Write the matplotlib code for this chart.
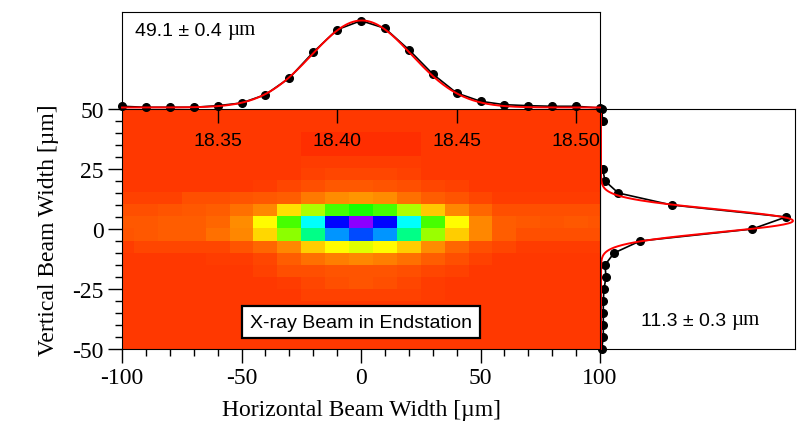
import numpy as np
import matplotlib
matplotlib.use('Agg')
import matplotlib.pyplot as plt
from matplotlib.colors import ListedColormap, hsv_to_rgb

plt.rcParams['axes.unicode_minus'] = False

# posisi profil (um)
x_pos = np.arange(-100, 101, 10)
y_pos = np.arange(50, -51, -5)

# profil horizontal (atas) dan vertikal (kanan), satuan sembarang
h_prof = [2.7, 1.7, 1.7, 1.7, 3.3, 6.0, 14.3, 31.0, 56.7, 79.3, 88.3,
          80.7, 59.3, 35.0, 16.0, 7.7, 4.3, 3.3, 2.7, 2.7, 1.0]
v_prof = [1.7, 2.7, -8, -8, -8, 2.7, 5.0, 18.3, 71.7, 186, 152.3,
          40, 14, 5, 6, 4, 3.3, 3.3, 3.3, 3.3, 1.7]

# parameter fit gaussian
h_fwhm, h_amp, h_cen, h_base = 49.1, 87.0, 0.3, 1.5
v_fwhm, v_amp, v_cen, v_base = 11.3, 192.0, 3.4, 1.0

# peta intensitas (baris dari atas y=50 ke bawah y=-50, kolom x=-100..100)
beam_map = [
    [5]*21,
    [5]*21,
    [5]*8 + [4.0]*5 + [5]*8,
    [5]*8 + [4.0]*5 + [5]*8,
    [5]*8 + [5.4]*5 + [5]*8,
    [5]*8 + [5.7, 6.2, 6.2, 6.2, 5.7] + [5]*8,
    [5]*6 + [5.4, 6.2, 6.7, 7.5, 7.5, 7.1, 6.7, 6.2, 5.7] + [5]*6,
    [5.7, 5.7, 5.7, 6.7, 6.7, 7.1, 7.5, 8.0, 10.2, 12.1, 12.8,
     12.1, 9.4, 8.0, 7.1, 6.0, 5.4, 5.4, 5.4, 5.4, 5.4],
    [6.7, 6.7, 7.1, 7.5, 8.0, 9.4, 11.4, 18.8, 28.5, 37, 41,
     37, 28.5, 17.1, 11.4, 8.9, 6.7, 6.7, 6.7, 6.7, 6.7],
    [7.5, 7.5, 8.0, 8.0, 8.9, 12.1, 21.4, 37, 64, 85, 97,
     85, 64, 37, 21.4, 11.4, 8.0, 7.5, 7.1, 7.5, 7.1],
    [7.1, 7.5, 8.0, 8.0, 9.4, 11.4, 18.0, 31, 54, 73, 79,
     73, 54, 30, 17.4, 11.4, 8.0, 6.7, 6.7, 6.7, 6.7],
    [5.4, 6.0, 6.0, 6.0, 6.2, 7.1, 8.9, 11.4, 17.4, 21.4, 24.2,
     21.4, 17.4, 12.1, 8.9, 6.7, 6.0, 5.4, 5.4, 5.4, 5.4],
    [5, 5, 5, 5, 5.4, 5.4, 6.2, 8.0, 9.4, 10.7, 11.4,
     10.7, 9.4, 8.0, 6.7, 5.7, 5, 5, 5, 5, 5],
    [5]*6 + [5.7, 6.7, 6.7, 7.1, 7.1, 7.1, 6.7, 6.2, 5.7] + [5]*6,
    [5]*7 + [5.4, 6.0, 6.9, 7.1, 6.9, 6.0, 5.4] + [5]*7,
    [5]*8 + [5.7]*5 + [5.4] + [5]*7,
    [5]*21,
    [5]*21,
    [5]*21,
    [5]*21,
]

h_label = '49.1 ± 0.4'
v_label = '11.3 ± 0.3'

serif = 'Liberation Serif'
sans = 'Liberation Sans'

# colormap merah -> ungu (rainbow terbalik)
hue = np.linspace(0, 0.78, 256)
cmap = ListedColormap(hsv_to_rgb(np.column_stack([hue, np.ones(256), np.ones(256)])))

fig = plt.figure(figsize=(8, 4.27), dpi=100)
ax_r = fig.add_axes([0.75, 0.1803, 0.24375, 0.5621])
ax = fig.add_axes([0.1525, 0.1803, 0.5975, 0.5621])
ax_t = fig.add_axes([0.1525, 0.7424, 0.5975, 0.2279])
ax_r.set_zorder(-1)

# peta
ax.imshow(np.array(beam_map), cmap=cmap, vmin=0, vmax=100, aspect='auto',
          interpolation='nearest', extent=(-105, 105, -50, 50))
ax.set_xlim(-100, 100)
ax.set_ylim(-50, 50)
ax.set_xticks([-100, -50, 0, 50, 100])
ax.set_xticks(np.arange(-100, 101, 10), minor=True)
ax.set_yticks([-50, -25, 0, 25, 50])
ax.set_yticks(np.arange(-50, 51, 5), minor=True)
ax.tick_params(which='major', direction='out', length=10, width=1, labelsize=17, pad=3)
ax.tick_params(which='minor', direction='out', length=5, width=1)
for lab in ax.get_xticklabels() + ax.get_yticklabels():
    lab.set_fontfamily(serif)
ax.set_xlabel('Horizontal Beam Width [µm]', fontsize=17, family=serif, labelpad=8)
ax.set_ylabel('Vertical Beam Width [µm]', fontsize=17, family=serif, labelpad=10)

sec = ax.secondary_xaxis('top', functions=(lambda x: 18.41 + x / 1000.0,
                                           lambda m: (m - 18.41) * 1000.0))
sec.set_xticks([18.35, 18.40, 18.45, 18.50])
sec.set_xticklabels(['18.35', '18.40', '18.45', '18.50'])
sec.tick_params(direction='in', length=10, width=1, labelsize=14, pad=-29)
for lab in sec.get_xticklabels():
    lab.set_fontfamily(sans)
sec.spines['top'].set_visible(False)

ax.text(0, -38.8, 'X-ray Beam in Endstation', fontsize=14, family=sans,
        ha='center', va='center',
        bbox=dict(boxstyle='square,pad=0.4', fc='white', ec='black', lw=1.6))

# profil atas
xx = np.linspace(-100, 100, 400)
sig_h = h_fwhm / 2.3548
ax_t.plot(x_pos, h_prof, color='black', lw=1.2, marker='o', ms=5.5, clip_on=False, zorder=3)
ax_t.plot(xx, h_base + h_amp * np.exp(-(xx - h_cen)**2 / (2 * sig_h**2)),
          color='red', lw=1.4, clip_on=False, zorder=4)
ax_t.set_xlim(-100, 100)
ax_t.set_ylim(0, 97.3)
ax_t.set_xticks([])
ax_t.set_yticks([])
ax_t.spines['bottom'].set_visible(False)
ax_t.patch.set_alpha(0)
t1 = ax_t.text(0.027, 0.81, h_label, transform=ax_t.transAxes, fontsize=14,
               family=sans, va='center', ha='left')
ax_t.annotate('µm', xy=(1, 0), xycoords=t1, xytext=(4, 0), textcoords='offset points',
              fontsize=15, family=serif, va='bottom')

# profil kanan
yy = np.linspace(-50, 50, 400)
sig_v = v_fwhm / 2.3548
ax_r.plot(v_prof, y_pos, color='black', lw=1.2, marker='o', ms=5.5, clip_on=False, zorder=3)
ax_r.plot(v_base + v_amp * np.exp(-(yy - v_cen)**2 / (2 * sig_v**2)), yy,
          color='red', lw=1.4, clip_on=False, zorder=4)
ax_r.set_xlim(0, 195)
ax_r.set_ylim(-50, 50)
ax_r.set_xticks([])
ax_r.set_yticks([])
t2 = ax_r.text(0.21, 0.12, v_label, transform=ax_r.transAxes, fontsize=14,
               family=sans, va='center', ha='left')
ax_r.annotate('µm', xy=(1, 0), xycoords=t2, xytext=(4, 0), textcoords='offset points',
              fontsize=15, family=serif, va='bottom')

fig.savefig('out.png', dpi=100)
